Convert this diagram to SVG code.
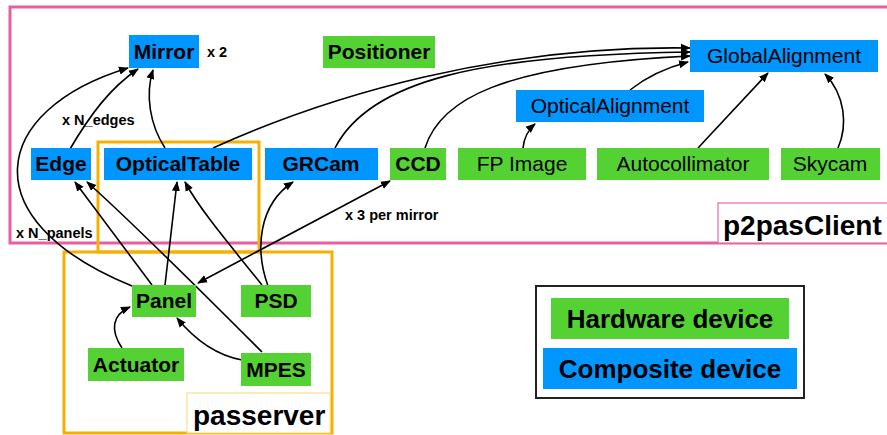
<svg xmlns="http://www.w3.org/2000/svg" width="887" height="435" viewBox="0 0 887 435">
<style>
.hw{fill:#55D233}
.cd{fill:#0096FF}
.b{font-family:"Liberation Sans",Arial,sans-serif;font-weight:bold;font-size:21px;fill:#000;text-anchor:middle}
.r{font-family:"Liberation Sans",Arial,sans-serif;font-size:21px;fill:#000;text-anchor:middle}
.s{font-family:"Liberation Sans",Arial,sans-serif;font-weight:bold;font-size:14.5px;fill:#000}
.big{font-family:"Liberation Sans",Arial,sans-serif;font-weight:bold;font-size:28px;fill:#000}
.leg{font-family:"Liberation Sans",Arial,sans-serif;font-weight:bold;font-size:26px;fill:#000;text-anchor:middle}
.c path{fill:none;stroke:#000;stroke-width:1.6;marker-end:url(#ah)}
</style>
<defs>
<marker id="ah" markerUnits="userSpaceOnUse" markerWidth="10" markerHeight="10" viewBox="0 0 10 10" refX="9" refY="5" orient="auto-start-reverse">
<path d="M0,1 L10,5 L0,9 z" fill="#000"/>
</marker>
</defs>
<rect width="887" height="435" fill="#fff"/>
<g id="p2pasClient">
<rect x="10" y="7" width="879" height="236" fill="none" stroke="#E95E9E" stroke-width="3"/>
<rect x="718" y="203" width="171" height="40" fill="#fff" stroke="#E36BA8" stroke-width="1.2"/>
<text class="big" x="723" y="235">p2pasClient</text>
</g>
<g id="passerver">
<rect x="98" y="142" width="161" height="110" fill="none" stroke="#F7B000" stroke-width="3"/>
<rect x="64" y="252" width="268" height="181" fill="none" stroke="#F7B000" stroke-width="3"/>
<rect x="187" y="393" width="143" height="40" fill="#fff" stroke="#F6DA7A" stroke-width="1"/>
<text class="big" x="193" y="425">passerver</text>
</g>
<g class="c" id="connectors">
<path d="M70,149 C 90,115 110,88 138,69"/>
<path d="M132,286 C -30,220 -10,110 128,68"/>
<path d="M165,148 C 150,125 145,95 153,70"/>
<path d="M213,148 C 330,95 500,45 690,48"/>
<path d="M335,148 C 370,80 480,55 690,52"/>
<path d="M425,148 C 440,100 500,65 690,56"/>
<path d="M630,90 C 645,78 665,68 688,62"/>
<path d="M523,148 C 524,138 528,130 535,124"/>
<path d="M698,148 L768,73"/>
<path d="M838,148 C 848,125 845,95 825,74"/>
<path d="M268,286 C 255,250 258,205 293,182"/>
<path d="M262,285 C 230,245 200,210 185,182"/>
<path d="M165,285 L177,182"/>
<path d="M152,285 L75,182"/>
<path d="M262,352 C 200,290 130,220 87,182"/>
<path d="M198,283 L390,181" marker-start="url(#ah)"/>
<path d="M122,348 C 110,330 112,315 130,307"/>
<path d="M242,360 C 215,355 195,340 177,318"/>
</g>
<g id="Mirror"><rect class="cd" x="129" y="35" width="70" height="33"/><text class="b" x="164" y="59">Mirror</text></g>
<text class="s" x="207" y="57">x 2</text>
<g id="Positioner"><rect class="hw" x="323" y="36" width="112" height="32"/><text class="b" x="379" y="59">Positioner</text></g>
<g id="GlobalAlignment"><rect class="cd" x="690" y="40" width="188" height="32"/><text class="r" x="784" y="63">GlobalAlignment</text></g>
<g id="OpticalAlignment"><rect class="cd" x="516" y="90" width="188" height="32"/><text class="r" x="610" y="113">OpticalAlignment</text></g>
<g id="Edge"><rect class="cd" x="31" y="148" width="60" height="32"/><text class="b" x="61" y="171">Edge</text></g>
<g id="OpticalTable"><rect class="cd" x="104" y="148" width="148" height="32"/><text class="b" x="178" y="171">OpticalTable</text></g>
<g id="GRCam"><rect class="cd" x="265" y="148" width="113" height="32"/><text class="b" x="321" y="171">GRCam</text></g>
<g id="CCD"><rect class="hw" x="390" y="148" width="56" height="32"/><text class="b" x="418" y="171">CCD</text></g>
<g id="FPImage"><rect class="hw" x="458" y="148" width="128" height="32"/><text class="r" x="522" y="171">FP Image</text></g>
<g id="Autocollimator"><rect class="hw" x="597" y="148" width="172" height="32"/><text class="r" x="683" y="171">Autocollimator</text></g>
<g id="Skycam"><rect class="hw" x="781" y="148" width="99" height="32"/><text class="r" x="830" y="171">Skycam</text></g>
<g id="Panel"><rect class="hw" x="132" y="285" width="64" height="32"/><text class="b" x="164" y="308">Panel</text></g>
<g id="PSD"><rect class="hw" x="241" y="285" width="70" height="32"/><text class="b" x="276" y="308">PSD</text></g>
<g id="Actuator"><rect class="hw" x="88" y="348" width="96" height="33"/><text class="b" x="136" y="372">Actuator</text></g>
<g id="MPES"><rect class="hw" x="241" y="353" width="70" height="33"/><text class="b" x="276" y="377">MPES</text></g>
<text class="s" x="62" y="125">x N_edges</text>
<text class="s" x="16" y="238">x N_panels</text>
<text class="s" x="345" y="220">x 3 per mirror</text>
<g id="legend">
<rect x="536" y="286" width="268" height="112" fill="none" stroke="#222" stroke-width="2"/>
<rect class="hw" x="551" y="298" width="238" height="41"/>
<text class="leg" x="670" y="328">Hardware device</text>
<rect class="cd" x="543" y="348" width="254" height="41"/>
<text class="leg" x="670" y="378">Composite device</text>
</g>
</svg>
